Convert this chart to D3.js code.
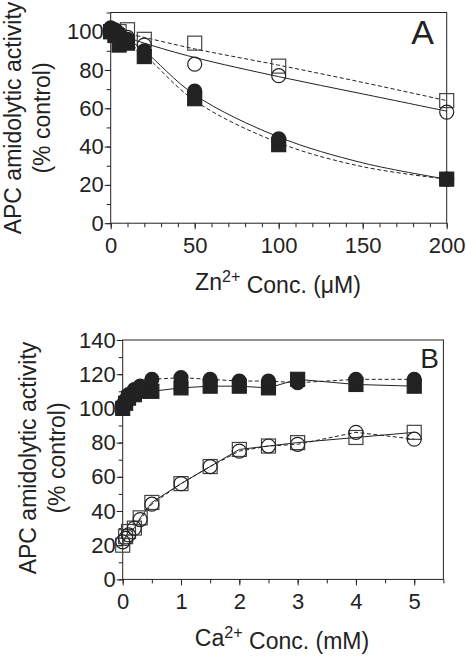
<!DOCTYPE html>
<html><head><meta charset="utf-8">
<script src="https://cdn.jsdelivr.net/npm/d3@7"></script>
<style>
body{margin:0;background:#fff}
text{font-family:"Liberation Sans",Arial,Helvetica,sans-serif;fill:#222}
</style>
</head><body>
<svg id="c" width="466" height="658"></svg>
<script>
// ---------- Panel A: Zn2+ (µM) ----------
const aTicksX = [0, 50, 100, 150, 200];
const aTicksY = [0, 20, 40, 60, 80, 100];
const aOpenSqX = [0, 5, 10, 20, 50, 100, 200];
const aOpenSqY = [100, 100, 101, 96, 94, 82, 64];
const aOpenCiX = [0, 5, 10, 20, 50, 100, 200];
const aOpenCiY = [100, 99, 97, 93, 83, 77, 58];
const aFillCiX = [0, 2.5, 5, 10, 20, 50, 100, 200];
const aFillCiY = [102, 101, 99, 96, 90, 69, 44, 23];
const aFillSqX = [0, 2.5, 5, 10, 20, 50, 100, 200];
const aFillSqY = [100, 98, 93, 94, 87, 65, 41, 23];
// fitted curves
const aFitOpenSqX = [0, 20, 50, 100, 150, 200];
const aFitOpenSqY = [101, 97, 91, 82.5, 73.5, 64];
const aFitOpenCiX = [0, 20, 50, 100, 150, 200];
const aFitOpenCiY = [100, 94, 86.5, 76.5, 67.5, 58.5];
const aFitFillCiX = [0, 10, 20, 50, 100, 150, 200];
const aFitFillCiY = [101, 96, 90, 67, 45, 31.5, 23];
const aFitFillSqX = [0, 10, 20, 50, 100, 150, 200];
const aFitFillSqY = [100, 94.5, 88, 64, 42, 29.5, 23];

// ---------- Panel B: Ca2+ (mM) ----------
const bTicksX = [0, 1, 2, 3, 4, 5];
const bTicksY = [0, 20, 40, 60, 80, 100, 120, 140];
const bX = [0, 0.05, 0.1, 0.2, 0.3, 0.5, 1, 1.5, 2, 2.5, 3, 4, 5];
const bOpenSqY = [20, 25, 28, 30, 36, 45, 56, 66, 76, 78, 80, 83, 86];
const bOpenCiY = [22, 24, 26, 30, 35, 44, 56, 66, 75, 78, 79, 86, 82];
const bFillCiY = [102, 105, 108, 111, 113, 117, 118, 117, 116, 116, 115, 117, 117];
const bFillSqY = [100, 103, 106, 108, 110, 110, 112, 113, 113, 112, 117, 114, 113];

const svg = d3.select("#c");
const ink = "#222";

function zip(xs, ys){ return xs.map((x,i)=>[x, ys[i]]); }

function panel(o){
  const g = svg.append("g");
  const x = d3.scaleLinear().domain(o.xDom).range([o.left, o.right]);
  const y = d3.scaleLinear().domain(o.yDom).range([o.bottom, o.top]);
  g.append("rect").attr("x", o.left).attr("y", o.top)
    .attr("width", o.right - o.left).attr("height", o.bottom - o.top)
    .attr("fill", "none").attr("stroke", ink).attr("stroke-width", 1);
  const xa = g.append("g").attr("transform", `translate(0,${o.bottom})`)
    .call(d3.axisBottom(x).tickValues(o.xMinor).tickSize(4).tickFormat(""));
  const ya = g.append("g").attr("transform", `translate(${o.left},0)`)
    .call(d3.axisLeft(y).tickValues(o.yMinor).tickSize(4).tickFormat(""));
  const xA = g.append("g").attr("transform", `translate(0,${o.bottom})`)
    .call(d3.axisBottom(x).tickValues(o.xTicks).tickSize(6).tickPadding(8).tickFormat(d3.format("d")));
  const yA = g.append("g").attr("transform", `translate(${o.left},0)`)
    .call(d3.axisLeft(y).tickValues(o.yTicks).tickSize(6).tickPadding(1).tickFormat(d3.format("d")));
  [xa, ya, xA, yA].forEach(a => {
    a.select(".domain").remove();
    a.selectAll("line").attr("stroke", ink);
    a.selectAll("text").attr("fill", ink).style("font-size", o.tickFont + "px")
      .style("font-family", '"Liberation Sans",Arial,sans-serif');
  });

  const line = d3.line().x(d=>x(d[0])).y(d=>y(d[1])).curve(o.curve);
  o.lines.forEach(L => {
    g.append("path").datum(zip(L.x, L.y)).attr("d", line)
      .attr("fill", "none").attr("stroke", ink).attr("stroke-width", 1)
      .attr("stroke-dasharray", L.dash ? "4,2.5" : null);
  });
  const s = 14;
  o.marks.forEach(M => {
    const pts = zip(M.x, M.y);
    if (M.shape === "sq") {
      g.append("g").selectAll("rect").data(pts).join("rect")
        .attr("x", d=>x(d[0]) - s/2).attr("y", d=>y(d[1]) - s/2)
        .attr("width", s).attr("height", s)
        .attr("fill", M.fill ? ink : "none")
        .attr("stroke", M.fill ? ink : "#444").attr("stroke-width", 1.2);
    } else {
      g.append("g").selectAll("circle").data(pts).join("circle")
        .attr("cx", d=>x(d[0])).attr("cy", d=>y(d[1])).attr("r", s/2)
        .attr("fill", M.fill ? ink : "none")
        .attr("stroke", ink).attr("stroke-width", 1.2);
    }
  });
  g.append("text").attr("x", o.letterX).attr("y", o.letterY)
    .attr("text-anchor", "end").style("font-size", o.letterFont + "px").text(o.letter);
  const xt = g.append("text").attr("x", o.xTitleX).attr("y", o.xTitleY)
    .attr("text-anchor", "middle").style("font-size", o.titleFont + "px");
  xt.append("tspan").text(o.ion);
  xt.append("tspan").attr("dy", "-0.5em").style("font-size", "0.7em").text("2+");
  xt.append("tspan").attr("dy", "0.5em").text(" Conc. (" + o.unit + ")");
  const yt = g.append("text").attr("transform", `translate(${o.yTitleX},${o.yTitleY}) rotate(-90)`)
    .attr("text-anchor", "middle").style("font-size", o.titleFont + "px");
  yt.append("tspan").attr("x", 0).attr("dy", 0).text("APC amidolytic activity");
  yt.append("tspan").attr("x", 0).attr("dy", o.yTitleGap).text("(% control)");
}

panel({
  xDom: [0, 200], yDom: [0, 110],
  left: 110.7, right: 446.7, top: 12.5, bottom: 223.2,
  xTicks: aTicksX, yTicks: aTicksY,
  xMinor: d3.range(0, 201, 10), yMinor: d3.range(0, 111, 10),
  tickFont: 22, titleFont: 23, letterFont: 34, letter: "A",
  letterX: 434, letterY: 44,
  xTitleX: 278, xTitleY: 290, ion: "Zn", unit: "\u03bcM",
  yTitleX: 21, yTitleY: 118, yTitleGap: 29,
  curve: d3.curveCatmullRom,
  lines: [
    {x: aFitOpenSqX, y: aFitOpenSqY, dash: true},
    {x: aFitOpenCiX, y: aFitOpenCiY, dash: false},
    {x: aFitFillSqX, y: aFitFillSqY, dash: true},
    {x: aFitFillCiX, y: aFitFillCiY, dash: false}
  ],
  marks: [
    {x: aOpenSqX, y: aOpenSqY, shape: "sq", fill: false},
    {x: aOpenCiX, y: aOpenCiY, shape: "ci", fill: false},
    {x: aFillSqX, y: aFillSqY, shape: "sq", fill: true},
    {x: aFillCiX, y: aFillCiY, shape: "ci", fill: true}
  ]
});

panel({
  xDom: [0, 5.5], yDom: [0, 140],
  left: 122.7, right: 443.4, top: 340, bottom: 579.4,
  xTicks: bTicksX, yTicks: bTicksY,
  xMinor: d3.range(0, 5.51, 0.5), yMinor: d3.range(0, 141, 10),
  tickFont: 22, titleFont: 23, letterFont: 28, letter: "B",
  letterX: 439, letterY: 368,
  xTitleX: 282, xTitleY: 646, ion: "Ca", unit: "mM",
  yTitleX: 36, yTitleY: 458, yTitleGap: 29,
  curve: d3.curveLinear,
  lines: [
    {x: bX, y: bOpenSqY, dash: false},
    {x: bX, y: bOpenCiY, dash: true},
    {x: bX, y: bFillSqY, dash: false},
    {x: bX, y: bFillCiY, dash: true}
  ],
  marks: [
    {x: bX, y: bOpenSqY, shape: "sq", fill: false},
    {x: bX, y: bOpenCiY, shape: "ci", fill: false},
    {x: bX, y: bFillSqY, shape: "sq", fill: true},
    {x: bX, y: bFillCiY, shape: "ci", fill: true}
  ]
});
</script>
</body></html>
